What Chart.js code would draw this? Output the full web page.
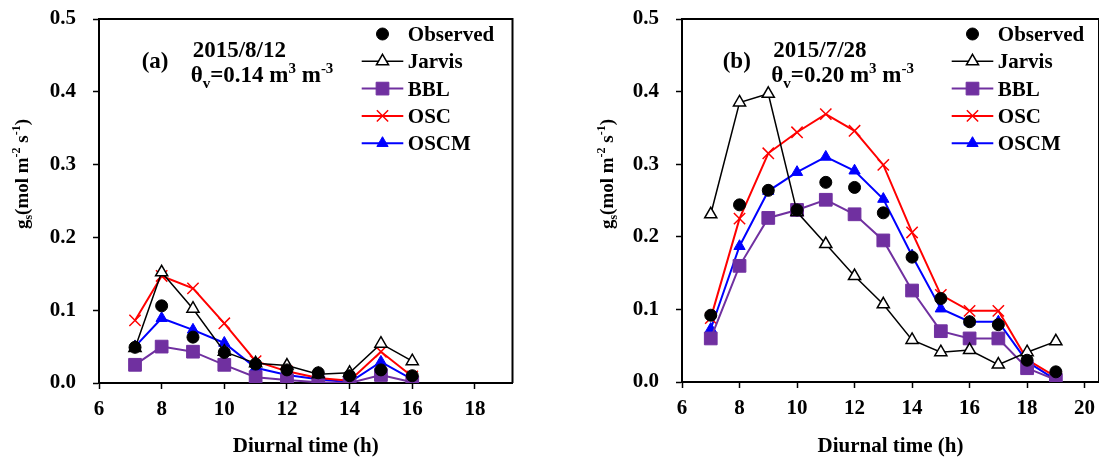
<!DOCTYPE html>
<html>
<head>
<meta charset="utf-8">
<script src="https://cdn.jsdelivr.net/npm/chart.js@4.4.0/dist/chart.umd.min.js"></script>
<style>
  html, body { margin: 0; padding: 0; background: #fff; overflow: hidden; }
  #wrap { position: relative; width: 1099px; height: 459px; }
  canvas { position: absolute; top: 0; }
</style>
</head>
<body>
<div id="wrap">
  <canvas id="chart-a" width="549" height="459" style="left:0"></canvas>
  <canvas id="chart-b" width="560" height="459" style="left:549px"></canvas>
</div>
<script>
// ---- data ----
const seriesNames = ['Observed', 'Jarvis', 'BBL', 'OSC', 'OSCM'];

// (a) 2015/8/12
const hoursA = [7.15, 8, 9, 10, 11, 12, 13, 14, 15, 16];
const obsA = [0.049, 0.106, 0.063, 0.042, 0.026, 0.018, 0.014, 0.010, 0.018, 0.010];
const jarvisA = [0.048, 0.152, 0.102, 0.043, 0.027, 0.024, 0.012, 0.014, 0.054, 0.030];
const bblA = [0.025, 0.050, 0.043, 0.025, 0.008, 0.004, 0.001, 0.000, 0.011, 0.001];
const oscA = [0.086, 0.147, 0.130, 0.082, 0.030, 0.016, 0.007, 0.003, 0.043, 0.009];
const oscmA = [0.050, 0.089, 0.073, 0.055, 0.021, 0.011, 0.005, 0.001, 0.029, 0.005];
const xTicksA = [6, 8, 10, 12, 14, 16, 18];

// (b) 2015/7/28
const hoursB = [7, 8, 9, 10, 11, 12, 13, 14, 15, 16, 17, 18, 19];
const obsB = [0.092, 0.244, 0.264, 0.237, 0.275, 0.268, 0.233, 0.172, 0.115, 0.083, 0.079, 0.030, 0.014];
const jarvisB = [0.231, 0.385, 0.397, 0.234, 0.190, 0.146, 0.107, 0.058, 0.041, 0.044, 0.024, 0.041, 0.056];
const bblB = [0.060, 0.160, 0.226, 0.237, 0.251, 0.231, 0.195, 0.126, 0.070, 0.060, 0.060, 0.019, 0.003];
const oscB = [0.088, 0.225, 0.315, 0.344, 0.369, 0.346, 0.299, 0.206, 0.120, 0.098, 0.098, 0.031, 0.007];
const oscmB = [0.073, 0.187, 0.263, 0.289, 0.310, 0.291, 0.252, 0.174, 0.101, 0.083, 0.083, 0.028, 0.003];
const xTicksB = [6, 8, 10, 12, 14, 16, 18, 20];

const yTicks = [0, 0.1, 0.2, 0.3, 0.4, 0.5];

const SERIF = "'Liberation Serif', 'Times New Roman', serif";
Chart.defaults.font.family = SERIF;
Chart.defaults.color = '#000';

const toXY = (xs, ys) => xs.map((x, i) => ({ x, y: ys[i] }));

function makeDatasets(hours, obs, jarvis, bbl, osc, oscm) {
  return [
    { label: seriesNames[0], data: toXY(hours, obs), showLine: false,
      pointStyle: 'circle', pointRadius: 6, pointBackgroundColor: '#000', pointBorderColor: '#000', pointBorderWidth: 1 },
    { label: seriesNames[1], data: toXY(hours, jarvis), showLine: true, borderColor: '#000', borderWidth: 1.5,
      pointStyle: 'triangle', pointRadius: 7, pointBackgroundColor: '#fff', pointBorderColor: '#000', pointBorderWidth: 1.5 },
    { label: seriesNames[2], data: toXY(hours, bbl), showLine: true, borderColor: '#7030A0', borderWidth: 2,
      pointStyle: 'rect', pointRadius: 9, pointBackgroundColor: '#7030A0', pointBorderColor: '#7030A0', pointBorderWidth: 1 },
    { label: seriesNames[3], data: toXY(hours, osc), showLine: true, borderColor: '#FF0000', borderWidth: 2,
      pointStyle: 'crossRot', pointRadius: 8, pointBackgroundColor: '#FF0000', pointBorderColor: '#FF0000', pointBorderWidth: 1.5 },
    { label: seriesNames[4], data: toXY(hours, oscm), showLine: true, borderColor: '#0000FF', borderWidth: 2,
      pointStyle: 'triangle', pointRadius: 6.5, pointBackgroundColor: '#0000FF', pointBorderColor: '#0000FF', pointBorderWidth: 1 },
  ];
}

// text with sub/superscripts: parts = [text, size, dy]
function richWidth(ctx, parts) {
  let w = 0;
  parts.forEach(([t, sz]) => { ctx.font = `bold ${sz}px ${SERIF}`; w += ctx.measureText(t).width; });
  return w;
}
function drawRich(ctx, x, y, parts) {
  ctx.textBaseline = 'alphabetic';
  ctx.textAlign = 'left';
  parts.forEach(([t, sz, dy]) => {
    ctx.font = `bold ${sz}px ${SERIF}`;
    ctx.fillText(t, x, y + dy);
    x += ctx.measureText(t).width;
  });
}

// frame, legend, labels
const decor = {
  id: 'decor',
  afterDraw(chart, args, o) {
    const ctx = chart.ctx;
    const a = chart.chartArea;
    ctx.save();
    ctx.strokeStyle = '#000';
    ctx.lineWidth = 2;
    ctx.beginPath();
    ctx.moveTo(a.left, a.top);
    ctx.lineTo(a.right, a.top);
    ctx.lineTo(a.right, a.bottom);
    ctx.stroke();

    // y title, rotated
    const yParts = [['g', 19, 0], ['s', 12, 4], ['(mol m', 19, 0], ['-2', 12, -8], [' s', 19, 0], ['-1', 12, -8], [')', 19, 0]];
    const w = richWidth(ctx, yParts);
    ctx.save();
    ctx.translate(o.yTitleX, o.yTitleY);
    ctx.rotate(-Math.PI / 2);
    ctx.fillStyle = '#000';
    drawRich(ctx, -w / 2, 0, yParts);
    ctx.restore();

    // panel annotation
    ctx.fillStyle = '#000';
    drawRich(ctx, o.tagX, 68, [[o.tag, 23, 0]]);
    drawRich(ctx, o.noteX, 56.5, [[o.date, 23, 0]]);
    drawRich(ctx, o.noteX - 2, 81.5, [['θ', 23, 0], ['v', 15, 6], [`=${o.theta} m`, 23, 0], ['3', 15, -9], [' m', 23, 0], ['-3', 15, -9]]);

    // legend
    chart.data.datasets.forEach((ds, i) => {
      const cy = 34 + i * 27.3;
      const mx = (o.legX0 + o.legX1) / 2;
      if (ds.showLine) {
        ctx.strokeStyle = ds.borderColor;
        ctx.lineWidth = ds.borderWidth;
        ctx.beginPath();
        ctx.moveTo(o.legX0, cy);
        ctx.lineTo(o.legX1, cy);
        ctx.stroke();
      }
      ctx.fillStyle = ds.pointBackgroundColor;
      ctx.strokeStyle = ds.pointBorderColor;
      ctx.lineWidth = ds.pointBorderWidth;
      Chart.helpers.drawPoint(ctx, { pointStyle: ds.pointStyle, radius: ds.pointRadius, rotation: 0, borderWidth: ds.pointBorderWidth }, mx, cy);
      ctx.fillStyle = '#000';
      ctx.font = `bold 21px ${SERIF}`;
      ctx.textBaseline = 'alphabetic';
      ctx.textAlign = 'left';
      ctx.fillText(ds.label, o.legX1 + 4.5, cy + 7);
    });
    ctx.restore();
  }
};

function makeChart(id, datasets, xMax, xTicks, yAxisWidth, padRight, xAxisHeight, deco) {
  return new Chart(document.getElementById(id), {
    type: 'scatter',
    data: { datasets },
    plugins: [decor],
    options: {
      responsive: false,
      animation: false,
      devicePixelRatio: 1,
      layout: { padding: { left: 0, right: padRight, top: 19, bottom: 0 } },
      plugins: { legend: { display: false }, tooltip: { enabled: false }, decor: deco },
      elements: { line: { tension: 0 } },
      scales: {
        x: {
          type: 'linear', min: 6, max: xMax,
          border: { display: true, color: '#000', width: 2 },
          grid: { display: true, drawOnChartArea: false, drawTicks: true, tickLength: 6, tickColor: '#000', tickWidth: 1.5 },
          ticks: { maxRotation: 0, padding: 8, color: '#000', font: { size: 21, weight: 'bold' } },
          afterBuildTicks: s => { s.ticks = xTicks.map(v => ({ value: v })); },
          afterFit: s => { s.height = xAxisHeight; s.paddingLeft = 0; s.paddingRight = 0; },
          title: { display: true, text: 'Diurnal time (h)', color: '#000', font: { size: 21, weight: 'bold' }, padding: { top: 0, bottom: 0 } }
        },
        y: {
          min: 0, max: 0.5,
          border: { display: true, color: '#000', width: 2 },
          grid: { display: true, drawOnChartArea: false, drawTicks: true, tickLength: 6, tickColor: '#000', tickWidth: 1.5 },
          ticks: { padding: 17, color: '#000', font: { size: 21, weight: 'bold' }, callback: v => v.toFixed(1) },
          afterBuildTicks: s => { s.ticks = yTicks.map(v => ({ value: v })); },
          afterFit: s => { s.width = yAxisWidth; s.paddingTop = 0; s.paddingBottom = 0; }
        }
      }
    }
  });
}

makeChart('chart-a', makeDatasets(hoursA, obsA, jarvisA, bblA, oscA, oscmA), 19.2, xTicksA, 99, 36.5, 76, {
  yTitleX: 28, yTitleY: 174, tag: '(a)', tagX: 141.7, noteX: 192.7, date: '2015/8/12', theta: '0.14',
  legX0: 361.7, legX1: 403.3
});

makeChart('chart-b', makeDatasets(hoursB, obsB, jarvisB, bblB, oscB, oscmB), 20.5, xTicksB, 133, 7.5, 77, {
  yTitleX: 64, yTitleY: 174, tag: '(b)', tagX: 173.7, noteX: 224.3, date: '2015/7/28', theta: '0.20',
  legX0: 402.7, legX1: 444.3
});
</script>
</body>
</html>
